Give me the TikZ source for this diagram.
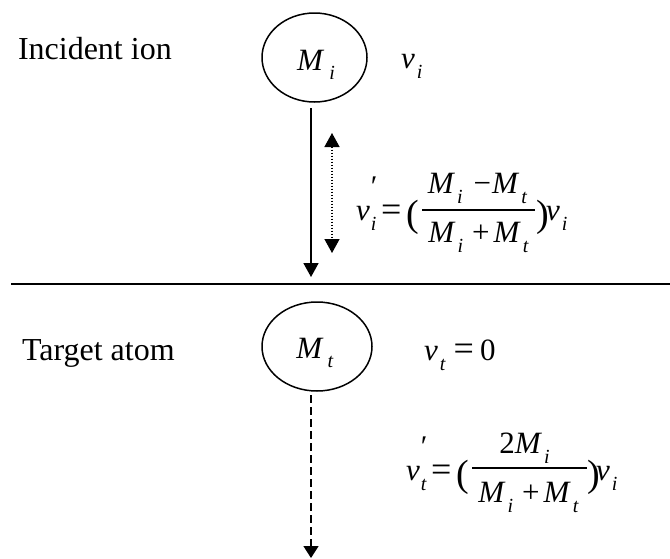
\documentclass[tikz,border=0pt]{standalone}
\usepackage{fontspec}
\setmainfont{Liberation Serif}
\usetikzlibrary{arrows.meta,shapes.geometric}
\newcommand\fmain{\fontsize{32}{38}\selectfont}
\newcommand\fm{\fontsize{31}{36}\selectfont}
\newcommand\fsb{\fontsize{20}{23}\selectfont}
\newcommand\fop{\fontsize{36}{40}\selectfont}
\newcommand\fpar{\fontsize{38}{42}\selectfont}
\newcommand\sbs[2]{\textit{#1}\kern2pt\raisebox{-10pt}{\fsb\textit{#2}}}
\newcommand\vpr[1]{\textit{v}\kern1pt\rlap{\raisebox{-10pt}{\fsb\textit{#1}}}\raisebox{24pt}{\fontsize{30}{30}\selectfont ′}\kern0pt}
\begin{document}
\begin{tikzpicture}[x=1pt,y=-1pt,
  txt/.style={inner sep=0pt,outer sep=0pt,font=\fm},
  atom/.style={draw,ellipse,line width=1.5pt,inner sep=0pt},
  tip/.style={-{Triangle[width=15pt,length=14pt]}},
  fracline/.style={line width=1.4pt}]
\useasboundingbox (0,0) rectangle (670,558);
% labels
\node[txt,font=\fmain,anchor=base west] (inc) at (18,59) {Incident ion};
\node[txt,font=\fmain,anchor=base west] (tar) at (22,360) {Target atom};
% incident ion
\node[atom,minimum width=105pt,minimum height=89pt] (ci) at (314.5,57.5) {};
\node[txt,anchor=base] (mi) at (316,70) {\textit{M}\kern5pt\raisebox{-9pt}{\fsb\textit{i}}};
\node[txt,anchor=base west] (vi) at (401,68) {\sbs{v}{i}};
% target atom
\node[atom,minimum width=110pt,minimum height=89pt] (ct) at (317,346.5) {};
\node[txt,anchor=base] (mt) at (315,358) {\textit{M}\kern4pt\raisebox{-9pt}{\fsb\textit{t}}};
\node[txt,anchor=base west] (vt) at (424,360) {\sbs{v}{t}\hspace{8pt}{\fop=}\hspace{6pt}0};
% surface line
\coordinate (ha) at (11,284);
\coordinate (hb) at (670,284);
\draw[line width=2pt] (ha) -- (hb);
% solid arrow
\coordinate (s1) at (311,108);
\coordinate (e1) at (311,277);
\draw[tip,line width=1.8pt] (s1) -- (e1);
% dotted double arrow
\coordinate (d1) at (332,133);
\coordinate (d2) at (332,253);
\draw[{Triangle[width=15pt,length=14pt]}-{Triangle[width=15pt,length=14pt]},line width=1.4pt,dash pattern=on 1.5pt off 1.5pt] (d1) -- (d2);
% dashed arrow
\coordinate (t1) at (311,395);
\coordinate (t2) at (311,558);
\draw[-{Triangle[width=15pt,length=12pt]},line width=1.5pt,dash pattern=on 8pt off 4pt] (t1) -- (t2);
% equation 1
\node[txt,anchor=base west] (a1) at (356,220) {\vpr{i}};
\node[txt,font=\fop,anchor=base west] (a2) at (381,221) {=};
\node[txt,font=\fpar,anchor=base west] (a3) at (406,226) {(};
\coordinate (f1a) at (422,210);
\coordinate (f1b) at (535,210);
\draw[fracline] (f1a) -- (f1b);
\node[txt,anchor=base] (n1) at (477.5,193) {\sbs{M}{i}\hspace{11pt}−\hspace{1pt}\sbs{M}{t}};
\node[txt,anchor=base] (m1) at (478.5,242) {\sbs{M}{i}\hspace{9pt}+\hspace{4pt}\sbs{M}{t}};
\node[txt,font=\fpar,anchor=base west] (a4) at (536,226) {)};
\node[txt,anchor=base west] (a5) at (546,220) {\sbs{v}{i}};
% equation 2
\node[txt,anchor=base west] (b1) at (406,480) {\vpr{t}};
\node[txt,font=\fop,anchor=base west] (b2) at (431,481) {=};
\node[txt,font=\fpar,anchor=base west] (b3) at (456,486) {(};
\coordinate (f2a) at (472,468);
\coordinate (f2b) at (587,468);
\draw[fracline] (f2a) -- (f2b);
\node[txt,anchor=base] (n2) at (524.5,453) {2\sbs{M}{i}};
\node[txt,anchor=base] (m2) at (528.5,502) {\sbs{M}{i}\hspace{9pt}+\hspace{4pt}\sbs{M}{t}};
\node[txt,font=\fpar,anchor=base west] (b4) at (587,486) {)};
\node[txt,anchor=base west] (b5) at (596,480) {\sbs{v}{i}};
\end{tikzpicture}
\end{document}
